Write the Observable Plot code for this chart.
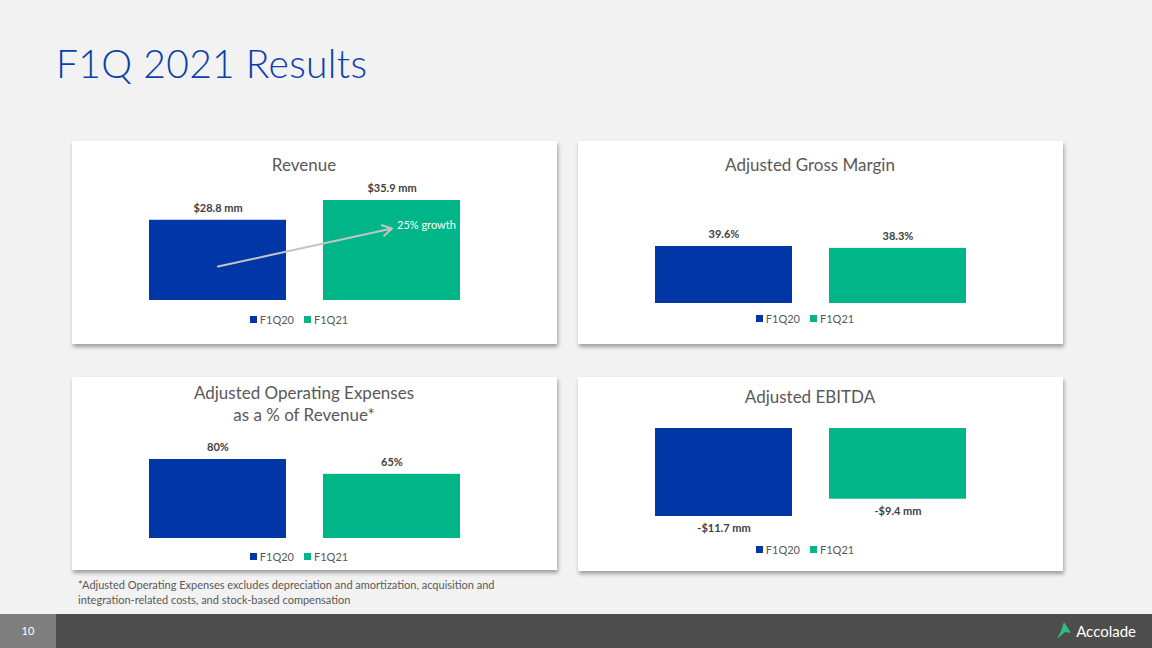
<!DOCTYPE html>
<html>
<head>
<meta charset="utf-8">
<script src="https://cdn.jsdelivr.net/npm/d3@7"></script>
<script src="https://cdn.jsdelivr.net/npm/@observablehq/plot@0.6"></script>
<style>
  html, body { margin: 0; padding: 0; }
  body { width: 1152px; height: 648px; background: #F2F2F2; position: relative; overflow: hidden; font-family: Lato, "Open Sans", sans-serif; }
  .slide-title { position: absolute; left: 56px; top: 40px; font-size: 39px; font-weight: 300; color: #0B40AD; white-space: nowrap; letter-spacing: 0.3px; }
  .card { position: absolute; background: #FFFFFF; box-shadow: 1px 3px 4px rgba(0,0,0,0.35); }
  .card svg { position: absolute; left: 0; top: 0; }
  .ctitle { position: absolute; left: 0; width: 464px; text-align: center; font-size: 17px; color: #595959; line-height: 22px; }
  .card .lg-swatches { position: absolute; left: 0; width: 464px; justify-content: center; font-family: Lato, sans-serif; font-size: 11px; color: #595959; min-height: 0; margin: 0; }
  .card .lg-swatch { margin-right: 10px; }
  .card .lg-swatch svg { position: static; margin-right: 3px; }
  .foot { position: absolute; left: 78px; top: 577px; font-size: 11px; line-height: 15px; color: #595959; }
  .bar { position: absolute; left: 0; top: 614px; width: 1152px; height: 34px; background: #4D4D4D; }
  .pg { position: absolute; left: 0; top: 0; width: 56px; height: 34px; background: #7F7F7F; color: #fff; font-size: 11px; line-height: 34px; text-align: center; }
  .logo { position: absolute; right: 16px; top: 7px; color: #fff; font-size: 15px; display: flex; align-items: center; }
</style>
</head>
<body>
<div class="slide-title">F1Q 2021 Results</div>
<div id="c1" class="card" style="left:72px;top:141px;width:485px;height:203px"></div>
<div id="c2" class="card" style="left:578px;top:141px;width:485px;height:203px"></div>
<div id="c3" class="card" style="left:72px;top:377px;width:485px;height:193px"></div>
<div id="c4" class="card" style="left:578px;top:377px;width:485px;height:194px"></div>
<div class="foot">*Adjusted Operating Expenses excludes depreciation and amortization, acquisition and<br>integration-related costs, and stock-based compensation</div>
<div class="bar">
  <div class="pg">10</div>
  <div class="logo"><svg width="20" height="20" viewBox="0 0 20 20"><polygon points="10,1 17,12 11,11 3,18 7,10" fill="#2DBE7E"/></svg><span style="margin-left:2px">Accolade</span></div>
</div>
<script>
// ---- data ----
const periods = ["F1Q20", "F1Q21"];
const colors = ["#0036A6", "#00B587"];
const revenue = [28.8, 35.9];
const revenueLabels = ["$28.8 mm", "$35.9 mm"];
const grossMargin = [39.6, 38.3];
const grossMarginLabels = ["39.6%", "38.3%"];
const opexPct = [80, 65];
const opexLabels = ["80%", "65%"];
const ebitda = [-11.7, -9.4];
const ebitdaLabels = ["-$11.7 mm", "-$9.4 mm"];
const growthArrow = [{from: "F1Q20", y1: 12.2, to: "F1Q21", y2: 25.85, note: "25% growth"}];

const tables = (vals, labels) => periods.map((p, i) => ({period: p, value: vals[i], label: labels[i]}));

function panel(id, cfg) {
  const el = document.getElementById(id);
  const data = tables(cfg.values, cfg.labels);
  const marks = [
    Plot.barY(data, {x: "period", y: "value", fill: "period"}),
    Plot.text(data, {x: "period", y: "value", text: "label", dy: cfg.below ? 12 : -12,
      fontWeight: "bold", fontSize: 11, fill: "#404040", fontFamily: "Lato, sans-serif"})
  ];
  if (cfg.extra) marks.push(...cfg.extra);
  const chart = Plot.plot({
    width: 485, height: cfg.height, margin: 0,
    style: {background: "transparent", overflow: "visible"},
    x: {domain: periods, range: [76, 389], paddingInner: 0.21, paddingOuter: 0, axis: null},
    y: {domain: cfg.domain, range: cfg.range, axis: null},
    color: {domain: periods, range: colors},
    marks
  });
  el.appendChild(chart);
  const t = document.createElement("div");
  t.className = "ctitle";
  t.style.top = cfg.titleTop + "px";
  t.innerHTML = cfg.title;
  el.appendChild(t);
  const lg = Plot.legend({color: {domain: periods, range: colors}, swatchSize: 7, className: "lg"});
  lg.style.top = cfg.legendTop + "px";
  el.appendChild(lg);
}

panel("c1", {
  values: revenue, labels: revenueLabels, height: 203,
  domain: [0, 35.9], range: [159, 59], title: "Revenue", titleTop: 13, legendTop: 172,
  extra: [
    Plot.arrow(growthArrow, {x1: "from", y1: "y1", x2: "to", y2: "y2", stroke: "#C4C4C4", strokeWidth: 2, headLength: 8}),
    Plot.text(growthArrow, {x: "to", y: "y2", text: "note", textAnchor: "start", dx: 5, dy: -3,
      fill: "#FFFFFF", fontSize: 11, fontFamily: "Lato, sans-serif"})
  ]
});
panel("c2", {
  values: grossMargin, labels: grossMarginLabels, height: 203,
  domain: [0, 39.6], range: [162, 105], title: "Adjusted Gross Margin", titleTop: 13, legendTop: 171
});
panel("c3", {
  values: opexPct, labels: opexLabels, height: 193,
  domain: [0, 80], range: [161, 82], title: "Adjusted Operating Expenses<br>as a % of Revenue*", titleTop: 5, legendTop: 173
});
panel("c4", {
  values: ebitda, labels: ebitdaLabels, height: 194, below: true,
  domain: [-11.7, 0], range: [139, 51], title: "Adjusted EBITDA", titleTop: 9, legendTop: 166
});
</script>
</body>
</html>
